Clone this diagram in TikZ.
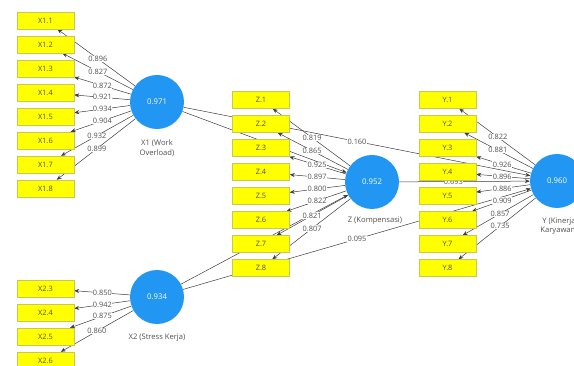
\documentclass[tikz,border=0pt]{standalone}
\usepackage{fontspec}
\setmainfont{Open Sans}
\usetikzlibrary{arrows.meta,calc,backgrounds}
\definecolor{latblue}{RGB}{33,150,243}
\definecolor{indyellow}{RGB}{255,255,0}
\definecolor{indborder}{RGB}{200,200,80}
\definecolor{linegray}{RGB}{60,60,60}
\definecolor{txtgray}{RGB}{80,80,80}
\tikzset{
  ind/.style={rectangle, fill=indyellow, draw=indborder, line width=0.4pt,
    minimum width=57pt, minimum height=17pt, inner sep=0pt,
    font=\fontsize{7.4}{8}\selectfont, text=txtgray},
  lat/.style={circle, fill=latblue, draw=none, minimum size=54pt, inner sep=0pt,
    text=white, font=\fontsize{7.8}{8}\selectfont},
  conn/.style={draw=linegray, line width=0.5pt, -{Stealth[length=5pt,width=4pt]}},
  val/.style={fill=white, inner sep=0.4pt, font=\fontsize{7.4}{8}\selectfont, text=txtgray},
  latname/.style={align=center, font=\fontsize{7.6}{9.5}\selectfont, text=txtgray}
}
\begin{document}
\begin{tikzpicture}[x=1pt,y=-1pt]
\useasboundingbox (0,0) rectangle (574,366);
% latent variables
\node[lat] (X1) at (157,102) {0.971};
\node[lat] (X2) at (157,297) {0.934};
\node[lat] (Z) at (372,182) {0.952};
\node[lat] (Y) at (557,181) {0.960};
\node[latname] (nX1) at (157,148) {X1 (Work\\Overload)};
\node[latname] (nX2) at (157,338) {X2 (Stress Kerja)};
\node[latname] (nZ) at (375,221) {Z (Kompensasi)};
\node[latname] (nY) at (559,226) {Y (Kinerja\\Karyawan)};
% indicators
\foreach \i/\y in {1/20.5,2/44.5,3/68.5,4/92.5,5/116.5,6/140.5,7/164.5,8/188.5}
  \node[ind] (x1\i) at (45.5,\y) {X1.\i};
\foreach \i/\y in {3/288.5,4/312.5,5/336.5,6/360.5}
  \node[ind] (x2\i) at (45.5,\y) {X2.\i};
\foreach \i/\y in {1/100,2/124,3/148,4/172,5/196,6/220,7/244,8/268}
  \node[ind] (z\i) at (261,\y) {Z.\i};
\foreach \i/\y in {1/100,2/124,3/148,4/172,5/196,6/220,7/244,8/268}
  \node[ind] (y\i) at (447.5,\y) {Y.\i};
\begin{scope}[on background layer]
  % outer model connectors
  \foreach \i in {1,...,8} {\draw[conn] (X1) -- (x1\i);}
  \foreach \i in {3,...,6} {\draw[conn] (X2) -- (x2\i);}
  \foreach \i in {1,...,8} {\draw[conn] (Z) -- (z\i);}
  \foreach \i in {1,...,8} {\draw[conn] (Y) -- (y\i);}
  % inner model connectors
  \draw[conn] (X1) -- (Z);
  \draw[conn] (X1) -- (Y);
  \draw[conn] (X2) -- (Z);
  \draw[conn] (X2) -- (Y);
  \draw[conn] (Z) -- (Y);
  % labels
  \foreach \i/\t/\v in {1/0.53/0.896,2/0.53/0.827,3/0.49/0.872,4/0.49/0.921,5/0.49/0.934,6/0.49/0.904,7/0.54/0.932,8/0.54/0.899}
    {\node[val] at ($(X1.center)!\t!(x1\i.center)$) {\v};}
  \foreach \i/\t/\v in {3/0.49/0.850,4/0.49/0.942,5/0.49/0.875,6/0.54/0.860}
    {\node[val] at ($(X2.center)!\t!(x2\i.center)$) {\v};}
  \foreach \i/\t/\v in {1/0.54/0.819,2/0.54/0.865,3/0.495/0.925,4/0.495/0.897,5/0.495/0.800,6/0.495/0.822,7/0.54/0.821,8/0.54/0.807}
    {\node[val] at ($(Z.center)!\t!(z\i.center)$) {\v};}
  \foreach \i/\t/\v in {1/0.54/0.822,2/0.54/0.881,3/0.5/0.926,4/0.5/0.896,5/0.5/0.886,6/0.5/0.909,7/0.52/0.857,8/0.52/0.735}
    {\node[val] at ($(Y.center)!\t!(y\i.center)$) {\v};}
  \node[val] at ($(X1.center)!0.5!(Y.center)$) {0.160};
  \node[val] at ($(X2.center)!0.5!(Y.center)$) {0.095};
  \node[val] at ($(Z.center)!0.44!(Y.center)$) {0.693};
\end{scope}
\end{tikzpicture}
\end{document}
